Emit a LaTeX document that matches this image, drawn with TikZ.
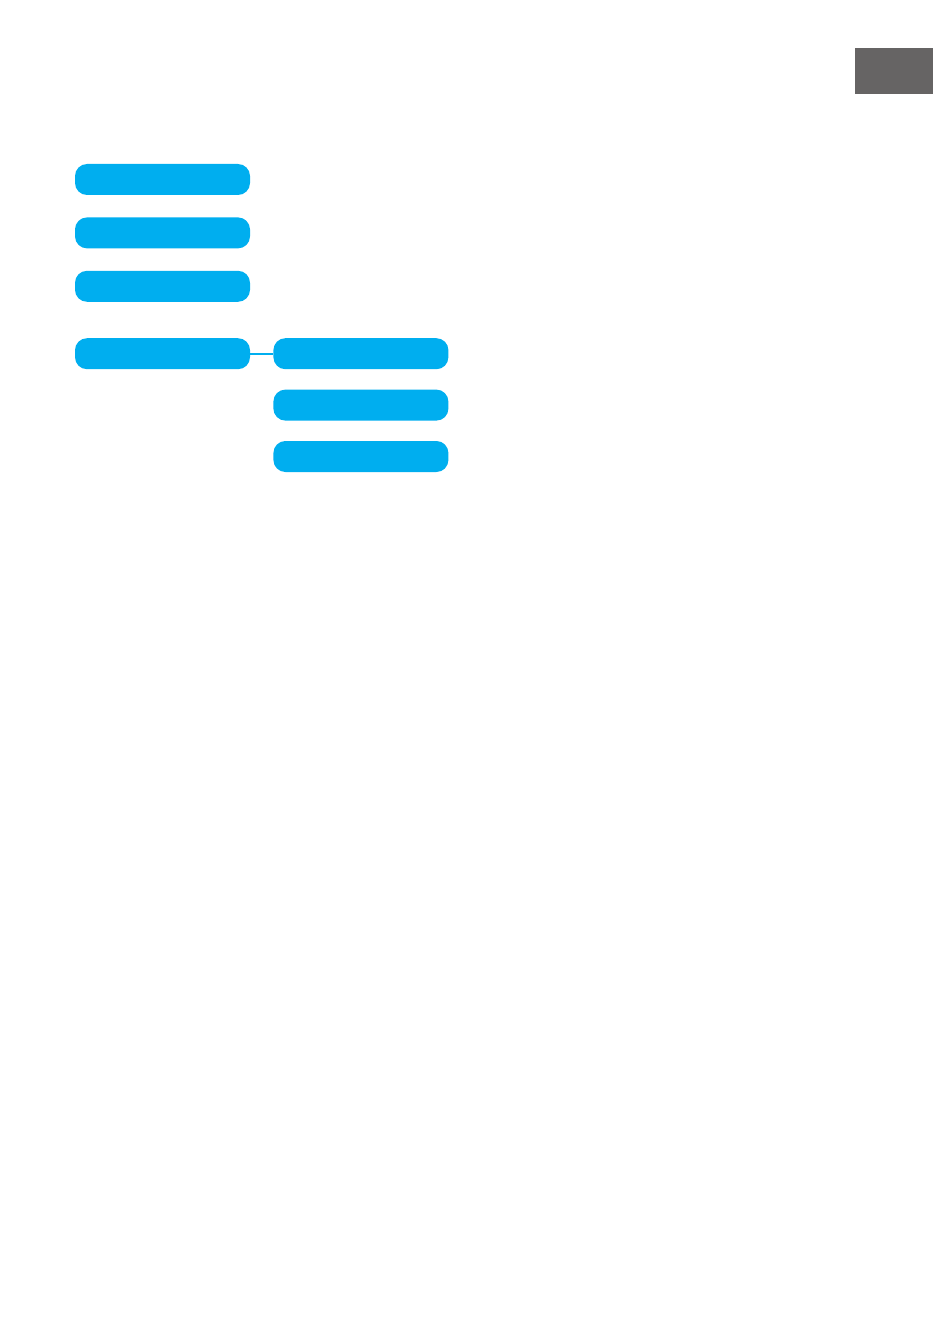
\documentclass[tikz,border=0pt]{standalone}
\usetikzlibrary{positioning}
\definecolor{menublue}{RGB}{0,174,239}
\definecolor{tabgrey}{RGB}{102,100,100}
\begin{document}
\begin{tikzpicture}[x=1pt, y=-1pt, node distance={22pt},
    item/.style = {fill=menublue, rounded corners=12pt, minimum width=175pt, minimum height=31pt, inner sep=0pt},
    link/.style = {color=menublue, line width=1.8pt}]
        \useasboundingbox (0,0) rectangle (933,1324);
        \fill[tabgrey] (855,48) rectangle (933,94);
        \node[item] (m1) at (162.5,179.5) {};
        \node[item] (m2) [below=of m1] {};
        \node[item] (m3) [below=of m2] {};
        \node[item] (m4) [below=36pt of m3] {};
        \node[item] (s1) [right=23pt of m4] {};
        \node[item] (s2) [below=20pt of s1] {};
        \node[item] (s3) [below=20pt of s2] {};
        \draw[link] (m4.east) -- (s1.west);
    \end{tikzpicture}
\end{document}
